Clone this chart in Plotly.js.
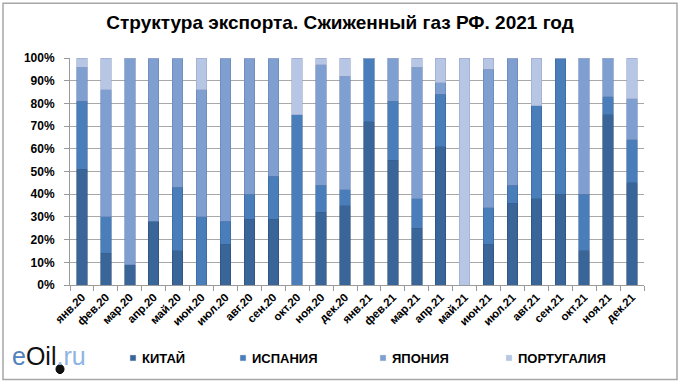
<!DOCTYPE html>
<html>
<head>
<meta charset="utf-8">
<script src="https://cdn.plot.ly/plotly-3.0.1.min.js"></script>
<style>
html,body{margin:0;padding:0;background:#fff;}
#chart{width:680px;height:384px;}
</style>
</head>
<body>
<div id="chart"></div>
<script>
const months = ["янв.20","фев.20","мар.20","апр.20","май.20","июн.20","июл.20","авг.20","сен.20","окт.20","ноя.20","дек.20",
                "янв.21","фев.21","мар.21","апр.21","май.21","июн.21","июл.21","авг.21","сен.21","окт.21","ноя.21","дек.21"];
const china    = [51,14, 9,28,15, 0,18,29,29, 0,32,35, 72,55,25,61,  0,18,36,38,40,15,75,45];
const spain    = [30,16, 0, 0,28,30,10,11,19,75,12, 7, 28,26,13,23,  0,16, 8,41,60,25, 8,19];
const japan    = [15,56,91,72,57,56,72,60,52, 0,53,50,  0,19,58, 5,  0,61,56, 0, 0,60,17,18];
const portugal = [ 4,14, 0, 0, 0,14, 0, 0, 0,25, 3, 8,  0, 0, 4,11,100, 5, 0,21, 0, 0, 0,18];
const seriesNames = ["КИТАЙ","ИСПАНИЯ","ЯПОНИЯ","ПОРТУГАЛИЯ"];
const yTicks = [0,10,20,30,40,50,60,70,80,90,100];
const yTickLabels = yTicks.map(v => v + "%");

// styling
const colors = ["#3a6598","#4a7ebb","#7f9fd0","#b8c6e5"];
const edges  = ["#2c4e78","#3a6699","#6683b5","#97a8cc"];
const legendWidths = [65, 95, 81, 110];
const FONT = "Liberation Sans, Arial, sans-serif";

const W = 680, H = 384;
const M = {l:70, r:36, t:58, b:98};
const pw = W - M.l - M.r, ph = H - M.t - M.b;
const px = x => (x - M.l) / pw;
const py = y => (H - M.b - y) / ph;

const vals = [china, spain, japan, portugal];
const traces = vals.map((v,i) => ({
  type: "bar",
  name: seriesNames[i],
  x: months,
  y: v,
  marker: {color: colors[i], line: {color: edges[i], width: 0.6}},
  legendwidth: legendWidths[i],
  hoverinfo: "skip"
}));

const layout = {
  width: W, height: H,
  margin: M,
  barmode: "stack",
  bargap: 0.56,
  paper_bgcolor: "#ffffff",
  plot_bgcolor: "#ffffff",
  font: {family: FONT, color: "#000", size: 11},
  title: {
    text: "Структура экспорта. Сжиженный газ РФ. 2021 год",
    font: {family: FONT, size: 19, weight: "bold", color: "#000"},
    x: 0.5, xref: "container", xanchor: "center",
    y: 1 - 22 / H, yref: "container", yanchor: "middle"
  },
  xaxis: {
    type: "category",
    tickangle: -45,
    tickfont: {family: FONT, size: 11.5, weight: "bold", color: "#000"},
    showline: true, linecolor: "#9a9a9a", linewidth: 1,
    ticks: "outside", tickson: "boundaries", ticklen: 5, tickcolor: "#9a9a9a",
    showgrid: false, zeroline: false, fixedrange: true
  },
  yaxis: {
    range: [0, 100],
    tickvals: yTicks, ticktext: yTickLabels,
    tickfont: {family: FONT, size: 12, weight: "bold", color: "#000"},
    showline: true, linecolor: "#9a9a9a", linewidth: 1,
    ticks: "outside", ticklen: 5, tickcolor: "#9a9a9a",
    ticklabelstandoff: 7,
    showgrid: true, gridcolor: "#a8a8a8", gridwidth: 1,
    zeroline: false, fixedrange: true
  },
  showlegend: true,
  legend: {
    orientation: "h",
    x: px(102), xanchor: "left",
    y: py(358), yanchor: "middle",
    font: {family: FONT, size: 13, weight: "bold", color: "#000"},
    entrywidthmode: "pixels",
    traceorder: "normal",
    bgcolor: "rgba(0,0,0,0)"
  },
  annotations: [{
    xref: "paper", yref: "paper",
    x: px(10), y: py(357), xanchor: "left", yanchor: "middle",
    showarrow: false,
    text: '<span style="color:#4f81bd">e</span><span style="color:#111">Oil</span><span style="color:#8db4e2">.ru</span>',
    font: {family: FONT, size: 25, color: "#111"}
  }],
  shapes: [{
    type: "rect", xref: "paper", yref: "paper",
    x0: px(3), x1: px(677), y0: py(381), y1: py(3),
    line: {color: "#a6a6a6", width: 1.5}, fillcolor: "rgba(0,0,0,0)", layer: "below"
  }, {
    type: "circle", xref: "paper", yref: "paper",
    x0: px(56), x1: px(64), y0: py(375), y1: py(366),
    line: {color: "#000", width: 1}, fillcolor: "#111"
  }]
};

Plotly.newPlot("chart", traces, layout, {staticPlot: true, displayModeBar: false}).then(() => {
  document.querySelectorAll(".legendpoints path").forEach(p => {
    p.setAttribute("transform", "translate(31,0) scale(0.45)");
  });
});
</script>
</body>
</html>
